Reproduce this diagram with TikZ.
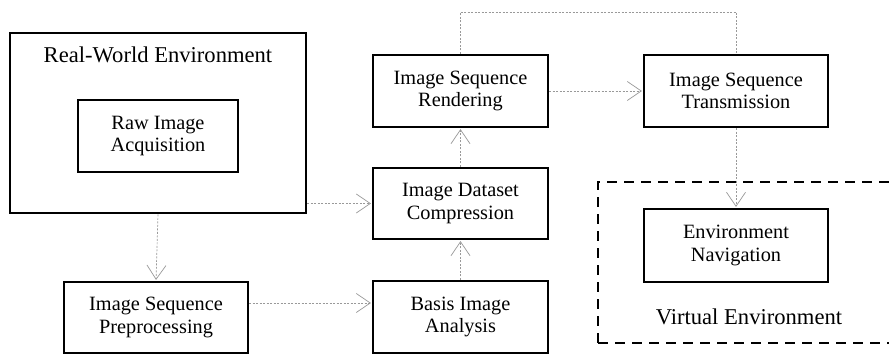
\documentclass[tikz,border=0pt]{standalone}
\usepackage{fontspec}
\setmainfont{Liberation Serif}
\usetikzlibrary{arrows.meta}
\tikzset{
  procbox/.style={draw=black, line width=2.2pt, align=center, inner sep=0pt,
    font=\fontsize{20.3}{22.5}\selectfont},
  envlabel/.style={anchor=base, inner sep=0pt, font=\fontsize{22.6}{25}\selectfont},
  conn/.style={draw=black!40, line width=0.7pt, dash pattern=on 2pt off 1.5pt,
    -{Straight Barb[length=14pt,width=19pt,line width=0.7pt,sep=1pt]}},
  loopline/.style={draw=black!40, line width=0.7pt, dash pattern=on 2pt off 1.5pt}
}
\begin{document}
\begin{tikzpicture}[x=1pt,y=-1pt]
\clip (0,0) rectangle (889,363);
\fill[white] (0,0) rectangle (889,363);
% real-world environment
\node[draw=black, line width=2.6pt, minimum width=296pt, minimum height=180pt, inner sep=0pt] (rw) at (158,123) {};
\node[envlabel] (rwlabel) at (158,63) {Real-World Environment};
% virtual environment
\draw[black, line width=2.6pt, dash pattern=on 10pt off 7pt] (598,343) -- (598,182) -- (895,182);
\draw[black, line width=2.6pt, dash pattern=on 10pt off 7pt] (598,343) -- (895,343);
\coordinate (vecorner) at (598,182);
\node[envlabel] (velabel) at (749,325) {Virtual Environment};
% boxes
\node[procbox, minimum width=160pt, minimum height=72pt] (raw) at (158,136) {Raw Image\\Acquisition};
\node[procbox, minimum width=184pt, minimum height=71pt] (prep) at (156,317.5) {Image Sequence\\Preprocessing};
\node[procbox, minimum width=175pt, minimum height=72pt] (rend) at (460.5,91) {Image Sequence\\Rendering};
\node[procbox, minimum width=175pt, minimum height=71pt] (comp) at (460.5,203.5) {Image Dataset\\Compression};
\node[procbox, minimum width=175pt, minimum height=72pt] (basis) at (460.5,317) {Basis Image\\Analysis};
\node[procbox, minimum width=184pt, minimum height=72pt] (trans) at (736,91) {Image Sequence\\Transmission};
\node[procbox, minimum width=184pt, minimum height=73pt] (nav) at (736,245.5) {Environment\\Navigation};
% connectors
\draw[conn] (rw.south) -- (prep.north);
\draw[conn] (prep.east |- 0,303) -- (basis.west |- 0,303);
\draw[conn] (basis.north) -- (comp.south);
\draw[conn] (rw.east |- comp.west) -- (comp.west);
\draw[conn] (comp.north) -- (rend.south);
\draw[conn] (rend.east) -- (trans.west);
\draw[conn] (trans.south) -- (nav.north);
\draw[loopline] (rend.north) -- ++(0,-42) -| (trans.north);
\end{tikzpicture}
\end{document}
